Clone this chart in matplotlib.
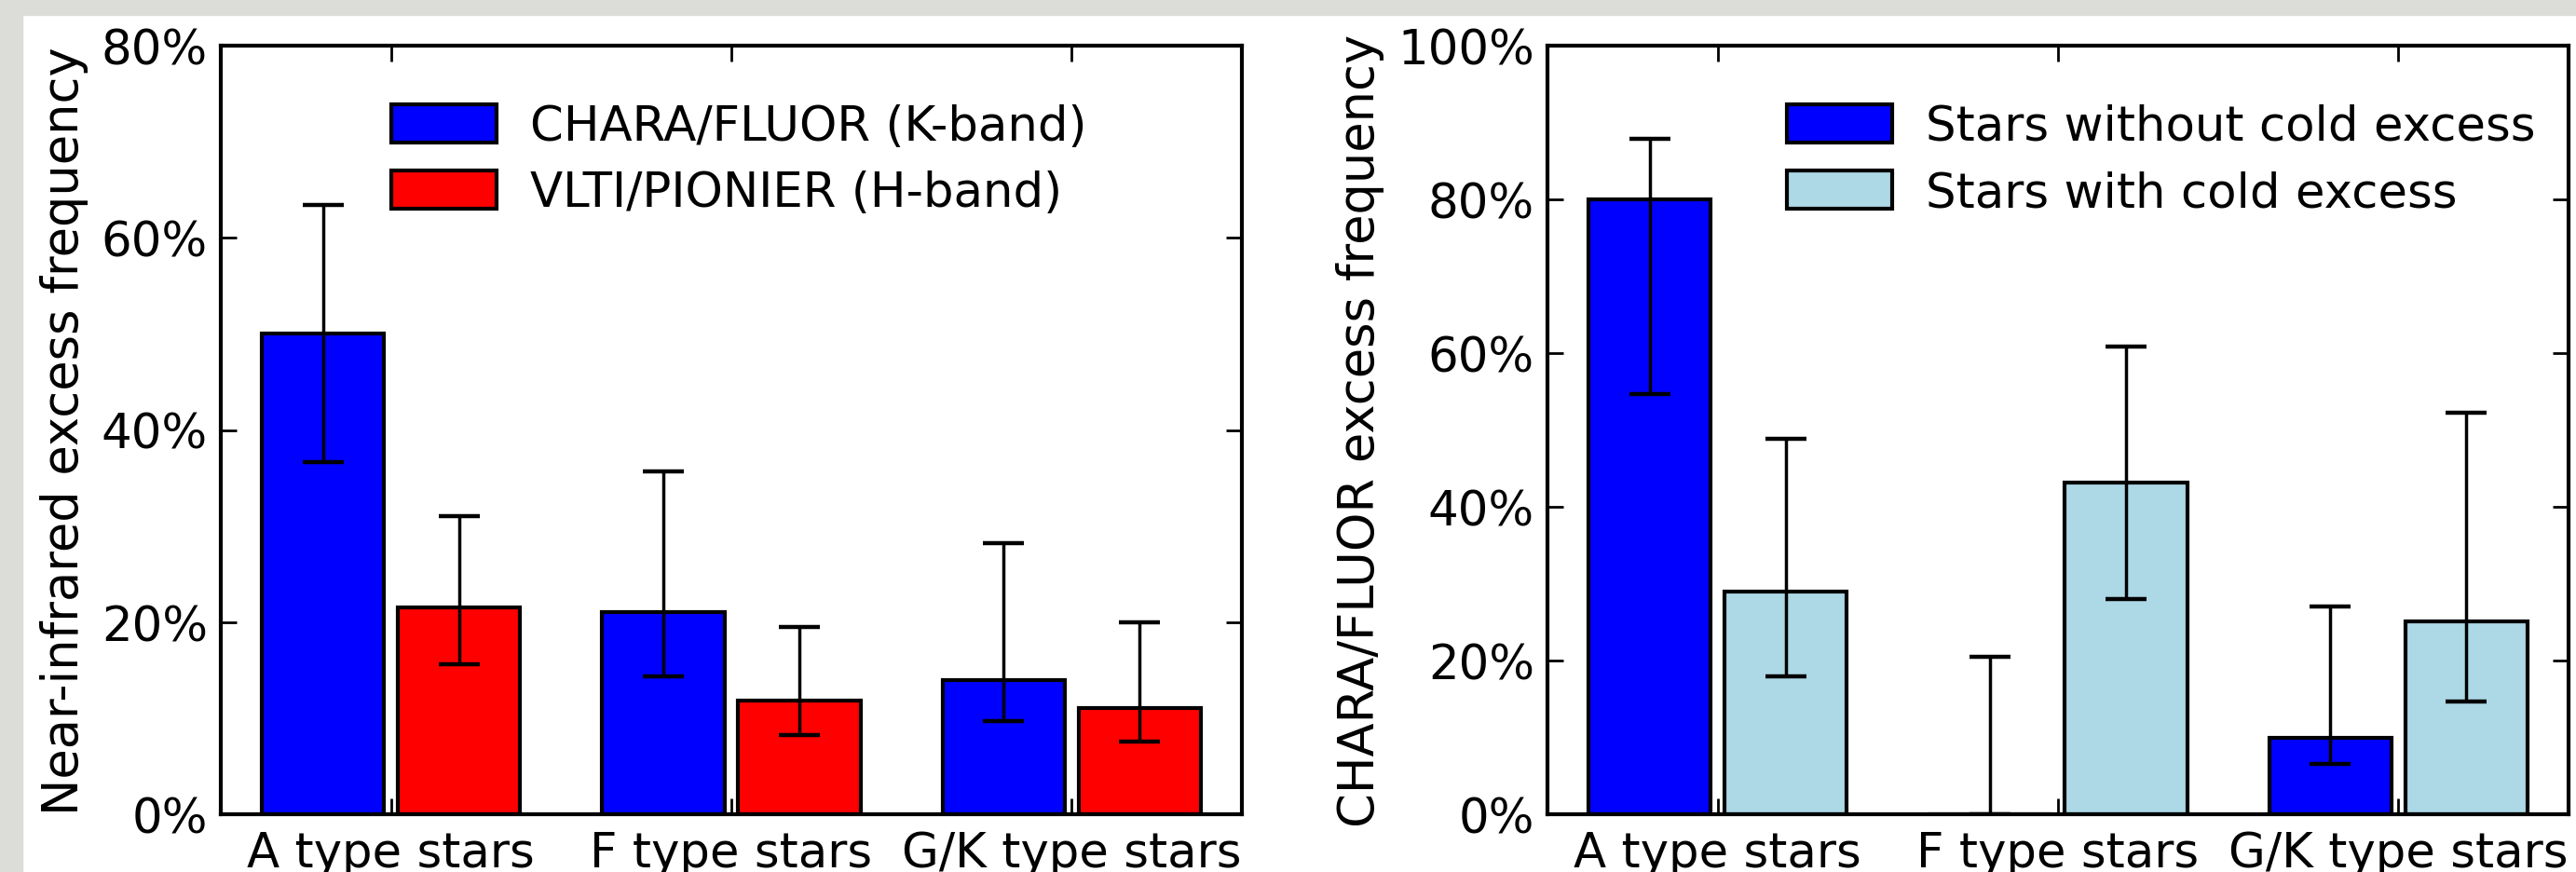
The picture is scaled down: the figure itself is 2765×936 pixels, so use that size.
import numpy as np
import matplotlib.pyplot as plt
from matplotlib.ticker import PercentFormatter
from matplotlib.patches import Rectangle

categories = ['A type stars', 'F type stars', 'G/K type stars']

# left panel: near-infrared excess frequency (%)
fluor = [50.0, 21.0, 14.0]
fluor_lo = [36.7, 14.4, 9.7]
fluor_hi = [63.4, 35.7, 28.2]
pionier = [21.5, 11.8, 11.1]
pionier_lo = [15.6, 8.2, 7.6]
pionier_hi = [31.0, 19.5, 20.0]

# right panel: CHARA/FLUOR excess frequency (%)
no_cold = [80.0, 0.0, 10.0]
no_cold_lo = [54.7, 0.0, 6.6]
no_cold_hi = [87.9, 20.5, 27.0]
cold = [29.0, 43.1, 25.1]
cold_lo = [18.0, 28.0, 14.7]
cold_hi = [48.8, 60.9, 52.3]

W, H = 2765, 937
fig = plt.figure(figsize=(W / 100, H / 100), dpi=100, facecolor='white')

# grey slide background strips at top and left
fig.patches.append(Rectangle((0, 1 - 17 / H), 1, 17 / H, transform=fig.transFigure,
                             color='#dcdcd8', zorder=-10))
fig.patches.append(Rectangle((0, 0), 24 / W, 1, transform=fig.transFigure,
                             color='#dcdcd8', zorder=-10))

ax1 = fig.add_axes([237 / W, 62 / H, 1096 / W, 825 / H])
ax2 = fig.add_axes([1661 / W, 62 / H, 1096 / W, 825 / H])

x = np.arange(3) + 0.5


def draw(ax, v1, lo1, hi1, v2, lo2, hi2, c1, c2, labels, ymax, ylabel, legx, labx):
    v1, lo1, hi1 = np.array(v1), np.array(lo1), np.array(hi1)
    v2, lo2, hi2 = np.array(v2), np.array(lo2), np.array(hi2)
    ax.bar(x - 0.2, v1, 0.36, color=c1, edgecolor='black', linewidth=3, label=labels[0])
    ax.bar(x + 0.2, v2, 0.36, color=c2, edgecolor='black', linewidth=3, label=labels[1])
    ax.errorbar(x - 0.2, v1, yerr=[v1 - lo1, hi1 - v1], fmt='none', ecolor='black',
                elinewidth=2.5, capsize=16, capthick=3.2, zorder=5)
    ax.errorbar(x + 0.2, v2, yerr=[v2 - lo2, hi2 - v2], fmt='none', ecolor='black',
                elinewidth=2.5, capsize=16, capthick=3.2, zorder=5)
    ax.set_xlim(0, 3)
    ax.set_ylim(0, ymax)
    ax.set_xticks(x)
    ax.set_xticklabels(categories)
    ax.set_yticks(np.arange(0, ymax + 1, 20))
    ax.yaxis.set_major_formatter(PercentFormatter(decimals=0))
    ax.tick_params(direction='in', top=True, right=True, length=12, width=2,
                   labelsize=37, pad=10)
    ax.tick_params(axis='x', pad=12)
    for s in ax.spines.values():
        s.set_linewidth(3)
    ax.set_ylabel(ylabel, fontsize=38)
    ax.yaxis.set_label_coords(labx, 0.5)
    ax.legend(loc='upper left', bbox_to_anchor=(legx, 0.925), frameon=False,
              fontsize=37, handlelength=2.2, handleheight=0.85, handletextpad=0.7,
              labelspacing=0.42, borderpad=0, borderaxespad=0)


draw(ax1, fluor, fluor_lo, fluor_hi, pionier, pionier_lo, pionier_hi,
     '#0000ff', '#ff0000', ['CHARA/FLUOR (K-band)', 'VLTI/PIONIER (H-band)'],
     80, 'Near-infrared excess frequency', 0.167, -0.13)
draw(ax2, no_cold, no_cold_lo, no_cold_hi, cold, cold_lo, cold_hi,
     '#0000ff', '#add8e6', ['Stars without cold excess', 'Stars with cold excess'],
     100, 'CHARA/FLUOR excess frequency', 0.2345, -0.16)

fig.savefig('out.png', dpi=100, facecolor=fig.get_facecolor())
